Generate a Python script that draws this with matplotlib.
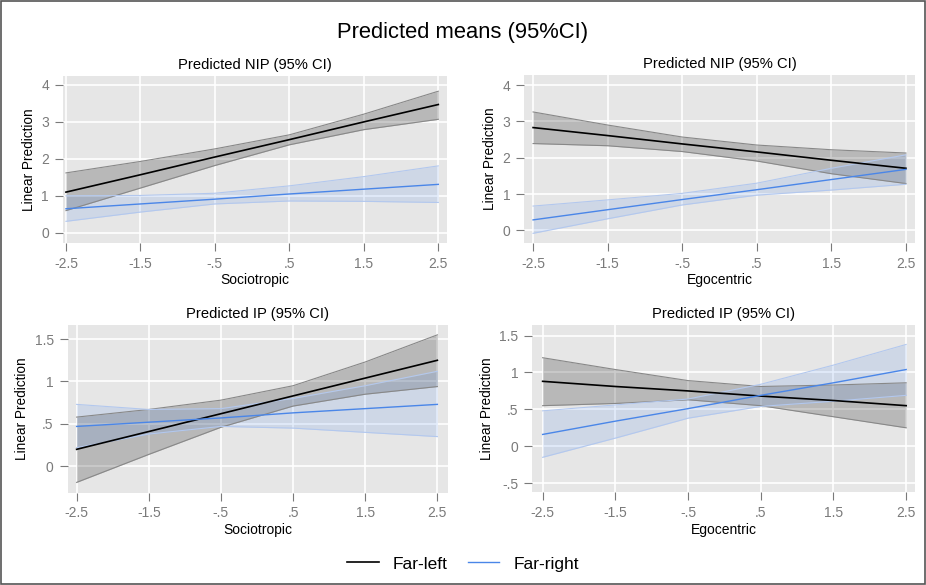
import matplotlib.pyplot as plt
from matplotlib.patches import Rectangle
from matplotlib.lines import Line2D

plt.rcParams['font.family'] = ['Liberation Sans', 'DejaVu Sans']

# valores
x = [-2.5, -1.5, -0.5, 0.5, 1.5, 2.5]
xticklabels = ['-2.5', '-1.5', '-.5', '.5', '1.5', '2.5']

# panel 1: NIP ~ Sociotropic
nip_soc_left = [1.10, 1.57, 2.05, 2.52, 3.00, 3.47]
nip_soc_left_lo = [0.60, 1.21, 1.82, 2.38, 2.79, 3.07]
nip_soc_left_hi = [1.62, 1.93, 2.27, 2.65, 3.21, 3.83]
nip_soc_right = [0.65, 0.78, 0.91, 1.05, 1.18, 1.31]
nip_soc_right_lo = [0.31, 0.56, 0.78, 0.86, 0.85, 0.82]
nip_soc_right_hi = [1.00, 1.01, 1.07, 1.27, 1.52, 1.81]

# panel 2: NIP ~ Egocentric
nip_ego_left = [2.83, 2.61, 2.38, 2.16, 1.93, 1.71]
nip_ego_left_lo = [2.39, 2.33, 2.17, 1.91, 1.56, 1.29]
nip_ego_left_hi = [3.26, 2.90, 2.57, 2.35, 2.22, 2.13]
nip_ego_right = [0.29, 0.57, 0.85, 1.12, 1.40, 1.68]
nip_ego_right_lo = [-0.08, 0.32, 0.70, 0.97, 1.11, 1.27]
nip_ego_right_hi = [0.67, 0.84, 1.02, 1.30, 1.71, 2.08]

# panel 3: IP ~ Sociotropic
ip_soc_left = [0.20, 0.41, 0.62, 0.83, 1.04, 1.25]
ip_soc_left_lo = [-0.19, 0.14, 0.46, 0.71, 0.85, 0.94]
ip_soc_left_hi = [0.58, 0.67, 0.78, 0.95, 1.23, 1.55]
ip_soc_right = [0.47, 0.52, 0.57, 0.63, 0.68, 0.73]
ip_soc_right_lo = [0.22, 0.38, 0.47, 0.45, 0.40, 0.35]
ip_soc_right_hi = [0.73, 0.67, 0.68, 0.80, 0.95, 1.12]

# panel 4: IP ~ Egocentric
ip_ego_left = [0.88, 0.81, 0.75, 0.68, 0.62, 0.55]
ip_ego_left_lo = [0.55, 0.58, 0.63, 0.55, 0.40, 0.25]
ip_ego_left_hi = [1.20, 1.04, 0.89, 0.81, 0.83, 0.86]
ip_ego_right = [0.16, 0.34, 0.51, 0.69, 0.86, 1.04]
ip_ego_right_lo = [-0.15, 0.11, 0.38, 0.54, 0.61, 0.69]
ip_ego_right_hi = [0.48, 0.56, 0.64, 0.84, 1.10, 1.38]

paneles = [
    ('Predicted NIP (95% CI)', 'Sociotropic', [0.068, 0.585, 0.415, 0.285], (-2.54, 2.62), (-0.27, 4.24),
     [0, 1, 2, 3, 4], ['0', '1', '2', '3', '4'],
     nip_soc_left, nip_soc_left_lo, nip_soc_left_hi, nip_soc_right, nip_soc_right_lo, nip_soc_right_hi),
    ('Predicted NIP (95% CI)', 'Egocentric', [0.566, 0.585, 0.422, 0.287], (-2.62, 2.62), (-0.34, 4.28),
     [0, 1, 2, 3, 4], ['0', '1', '2', '3', '4'],
     nip_ego_left, nip_ego_left_lo, nip_ego_left_hi, nip_ego_right, nip_ego_right_lo, nip_ego_right_hi),
    ('Predicted IP (95% CI)', 'Sociotropic', [0.073, 0.158, 0.411, 0.287], (-2.625, 2.65), (-0.31, 1.67),
     [0, 0.5, 1, 1.5], ['0', '.5', '1', '1.5'],
     ip_soc_left, ip_soc_left_lo, ip_soc_left_hi, ip_soc_right, ip_soc_right_lo, ip_soc_right_hi),
    ('Predicted IP (95% CI)', 'Egocentric', [0.575, 0.159, 0.413, 0.285], (-2.64, 2.62), (-0.62, 1.64),
     [-0.5, 0, 0.5, 1, 1.5], ['-.5', '0', '.5', '1', '1.5'],
     ip_ego_left, ip_ego_left_lo, ip_ego_left_hi, ip_ego_right, ip_ego_right_lo, ip_ego_right_hi),
]

azul = '#4a86e8'
fig = plt.figure(figsize=(9.26, 5.85), dpi=100)

for (titulo, xlab, pos, xl, yl, yt, ytl,
     l, l_lo, l_hi, r, r_lo, r_hi) in paneles:
    ax = fig.add_axes(pos)
    ax.set_facecolor('#e6e6e6')
    ax.fill_between(x, l_lo, l_hi, color='black', alpha=0.2, lw=0)
    ax.plot(x, l_lo, color='#888888', lw=0.8)
    ax.plot(x, l_hi, color='#888888', lw=0.8)
    ax.fill_between(x, r_lo, r_hi, color=azul, alpha=0.15, lw=0)
    ax.plot(x, r_lo, color='#b3c8ee', lw=0.8)
    ax.plot(x, r_hi, color='#b3c8ee', lw=0.8)
    ax.plot(x, l, color='black', lw=1.2)
    ax.plot(x, r, color=azul, lw=1.0)
    ax.set_xlim(xl)
    ax.set_ylim(yl)
    ax.set_xticks(x)
    ax.set_xticklabels(xticklabels)
    ax.set_yticks(yt)
    ax.set_yticklabels(ytl)
    ax.grid(True, color='white', lw=1.2)
    ax.set_axisbelow(True)
    for s in ax.spines.values():
        s.set_visible(False)
    ax.tick_params(colors='#7a7a7a', labelsize=10, length=6, width=0.8, pad=4)
    ax.set_title(titulo, fontsize=10.6, pad=5)
    ax.set_xlabel(xlab, fontsize=10, labelpad=2)
    ax.set_ylabel('Linear Prediction', fontsize=9.8, labelpad=4)

fig.text(0.5, 0.945, 'Predicted means (95%CI)', ha='center', va='center', fontsize=15.8)

handles = [Line2D([], [], color='black', lw=1.2), Line2D([], [], color=azul, lw=1.0)]
fig.legend(handles, ['Far-left', 'Far-right'], loc='center', bbox_to_anchor=(0.5, 0.036),
           ncol=2, frameon=False, fontsize=12.5, handlelength=1.8, handletextpad=0.8,
           columnspacing=1.2)

fig.patches.append(Rectangle((0.001, 0.001), 0.998, 0.998, transform=fig.transFigure,
                             fill=False, edgecolor='#555555', lw=1.2))

plt.savefig('out.png', dpi=100)
